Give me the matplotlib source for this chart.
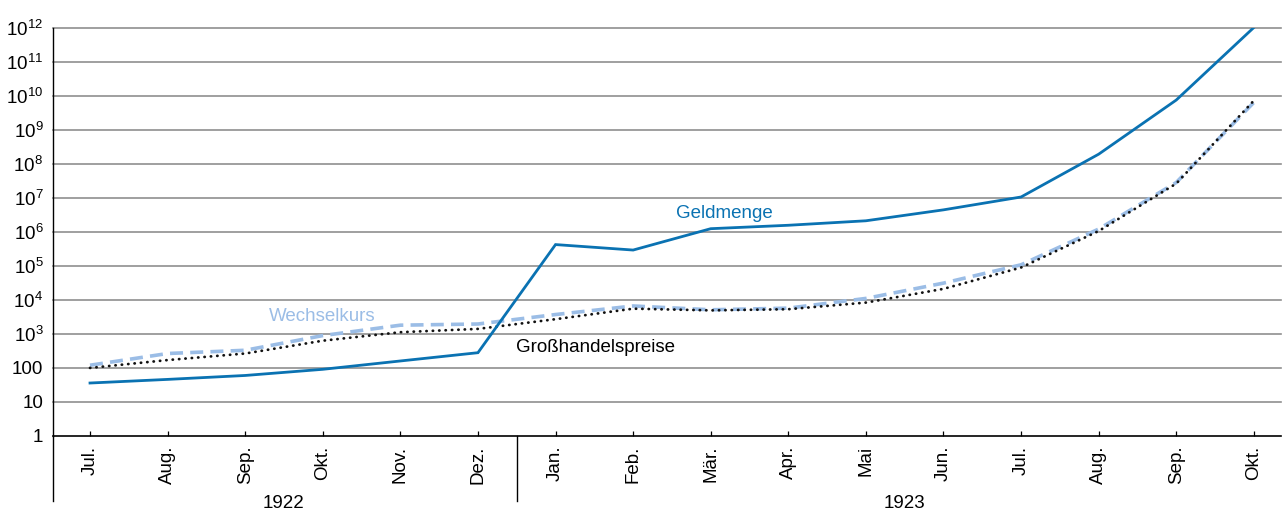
import matplotlib
matplotlib.use("Agg")
import matplotlib.pyplot as plt
from matplotlib.transforms import blended_transform_factory
import numpy as np

plt.rcParams['font.family'] = ['Liberation Sans', 'DejaVu Sans']
plt.rcParams['mathtext.fontset'] = 'custom'
plt.rcParams['mathtext.rm'] = 'Liberation Sans'

months = ["Jul.", "Aug.", "Sep.", "Okt.", "Nov.", "Dez.",
          "Jan.", "Feb.", "Mär.", "Apr.", "Mai", "Jun.", "Jul.", "Aug.", "Sep.", "Okt."]
years = ["1922", "1923"]
year_sizes = [6, 10]

geldmenge = [36, 46, 60, 91, 160, 280, 4.2e5, 2.9e5, 1.23e6, 1.55e6, 2.1e6,
             4.4e6, 1.05e7, 1.9e8, 7.4e9, 1e12]
wechselkurs = [120, 265, 330, 890, 1800, 1950, 3700, 6600, 5100, 5700, 11000,
               31000, 1.07e5, 1.2e6, 2.8e7, 6.3e9]
grosshandel = [100, 170, 265, 630, 1120, 1400, 2700, 5500, 4900, 5300, 8300,
               21000, 89000, 1.05e6, 2.6e7, 7.1e9]

ytick_vals = [10.0 ** k for k in range(13)]
ytick_labels = ["1", "10", "100"] + [r"$\mathregular{10^{%d}}$" % k for k in range(3, 13)]

c_geld = "#0a72b2"
c_wech = "#9bbde6"
c_gross = "#111111"

fig = plt.figure(figsize=(12.82, 5.12), dpi=100)
ax = fig.add_axes([53 / 1282, 1 - 436 / 512, 1228 / 1282, 408.5 / 512])

x = np.arange(len(months))

# horizontal grid at each decade
for v in ytick_vals[1:]:
    ax.axhline(v, color="#8f8f8f", lw=1.2, zorder=1, clip_on=False)

ax.plot(x, wechselkurs, color=c_wech, lw=2.6, ls=(0, (3.6, 2.0)), zorder=3,
        solid_capstyle="butt", dash_capstyle="butt")
ax.plot(x, grosshandel, color=c_gross, lw=2.0, ls=(0, (0.1, 2.2)), zorder=4,
        dash_capstyle="round")
ax.plot(x, geldmenge, color=c_geld, lw=2.0, zorder=5, solid_joinstyle="miter")

ax.set_yscale("log")
ax.set_ylim(1, 1e12)
ax.set_xlim(-0.477, 15.35)

ax.set_yticks(ytick_vals)
ax.set_yticklabels(ytick_labels)
ax.yaxis.set_minor_locator(matplotlib.ticker.NullLocator())
ax.tick_params(axis="y", length=0, pad=7, labelsize=13.5)

ax.set_xticks(x)
ax.set_xticklabels(months, rotation=90, va="top", ha="center")
ax.tick_params(axis="x", direction="in", length=3.5, width=0.9, pad=7, labelsize=13.5)

for side in ["top", "right"]:
    ax.spines[side].set_visible(False)
ax.spines["left"].set_linewidth(1.0)
ax.spines["bottom"].set_linewidth(1.2)

# year brackets below the month labels
trans = blended_transform_factory(ax.transData, ax.transAxes)
ax.plot([-0.477, -0.477], [0, -0.16], color="black", lw=1.0, transform=trans, clip_on=False)
start = 0
for i, (yr, n) in enumerate(zip(years, year_sizes)):
    if i > 0:
        ax.plot([start - 0.5, start - 0.5], [0, -0.16], color="black", lw=1.0,
                transform=trans, clip_on=False)
    ax.text(start + (n - 1) / 2, -0.165, yr, transform=trans, ha="center", va="center",
            fontsize=13.5)
    start += n

ax.text(8.18, 10 ** 6.54, "Geldmenge", color=c_geld, fontsize=13.5, ha="center", va="center")
ax.text(2.99, 10 ** 3.51, "Wechselkurs", color=c_wech, fontsize=13.5, ha="center", va="center")
ax.text(6.52, 10 ** 2.60, "Großhandelspreise", color="black", fontsize=13.5, ha="center", va="center")

fig.savefig("out.png", dpi=100)
